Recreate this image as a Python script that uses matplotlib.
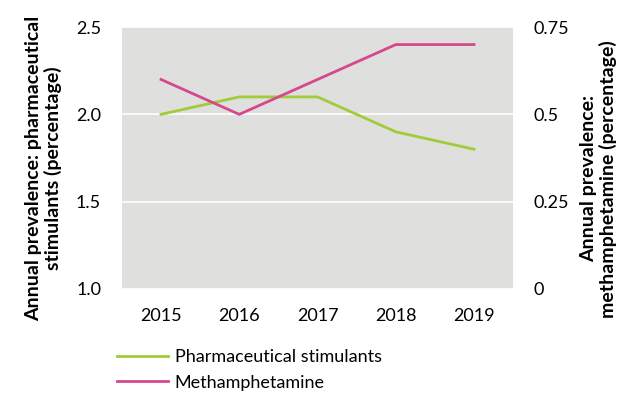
import matplotlib
matplotlib.use("Agg")
import matplotlib.pyplot as plt

plt.rcParams['font.family'] = ['Lato', 'DejaVu Sans']

years = ['2015', '2016', '2017', '2018', '2019']
pharma = [2.0, 2.1, 2.1, 1.9, 1.8]
meth = [0.6, 0.5, 0.6, 0.7, 0.7]
left_ticks = [1.0, 1.5, 2.0, 2.5]
left_labels = ['1.0', '1.5', '2.0', '2.5']
right_ticks = [0, 0.25, 0.5, 0.75]
right_labels = ['0', '0.25', '0.5', '0.75']

green = '#a0cc3a'
pink = '#d6488e'

fig = plt.figure(figsize=(6.22, 3.93), dpi=100)
ax = fig.add_axes([0.196, 0.265, 0.629, 0.666])
ax.set_facecolor('#dfe0de')
x = range(len(years))
l1, = ax.plot(x, pharma, color=green, lw=2, label='Pharmaceutical stimulants')
ax.set_xlim(-0.5, 4.5)
ax.set_ylim(1.0, 2.5)
ax.set_yticks(left_ticks)
ax.set_yticklabels(left_labels)
ax.set_xticks(list(x))
ax.set_xticklabels(years)
ax.yaxis.grid(True, color='white', lw=1.2)
ax.set_axisbelow(True)
for s in ax.spines.values():
    s.set_visible(False)
ax.tick_params(length=0, labelsize=13, pad=15)
ax.tick_params(axis='x', pad=14)
ax.set_ylabel('Annual prevalence: pharmaceutical\nstimulants (percentage)',
              fontsize=14, fontweight='bold', linespacing=1.1,
              multialignment='center')
ax.yaxis.set_label_coords(-0.153, 0.46)

ax2 = ax.twinx()
l2, = ax2.plot(x, meth, color=pink, lw=2, label='Methamphetamine')
ax2.set_ylim(0, 0.75)
ax2.set_yticks(right_ticks)
ax2.set_yticklabels(right_labels)
for s in ax2.spines.values():
    s.set_visible(False)
ax2.tick_params(length=0, labelsize=13, pad=15)
ax2.set_ylabel('Annual prevalence:\nmethamphetamine (percentage)',
               fontsize=14, fontweight='bold', linespacing=1.1,
               multialignment='center')
ax2.yaxis.set_label_coords(1.171, 0.42)

fig.legend(handles=[l1, l2], loc='lower left', bbox_to_anchor=(0.162, -0.035),
           frameon=False, fontsize=13, handlelength=2.8, handletextpad=0.4,
           labelspacing=0.5)

fig.savefig('out.png', dpi=100)
